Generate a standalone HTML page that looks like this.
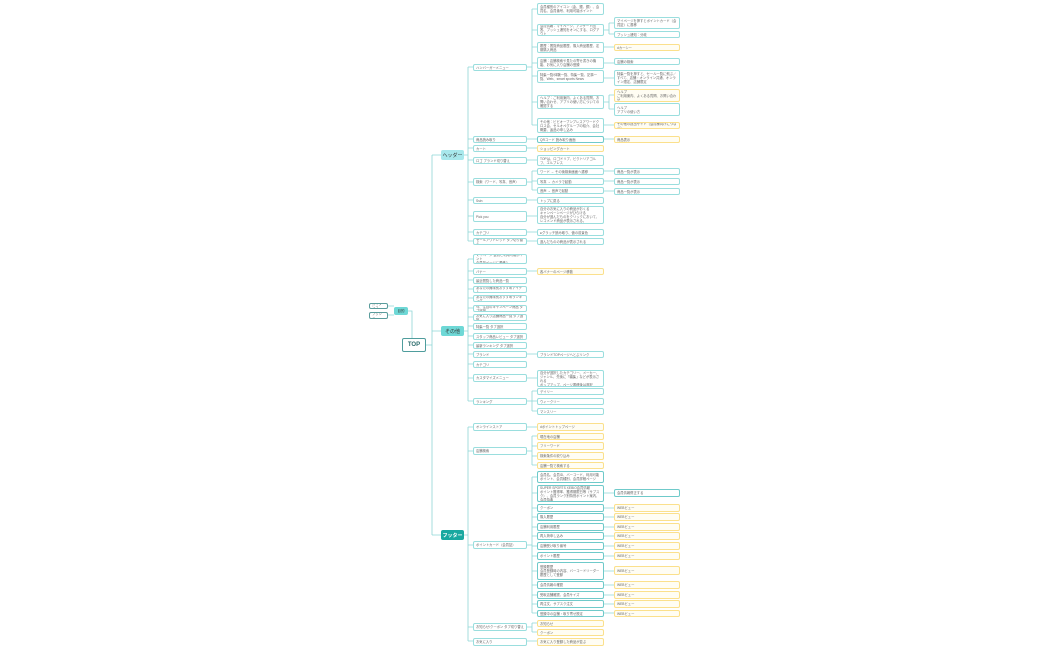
<!DOCTYPE html>
<html><head><meta charset="utf-8">
<style>
body{margin:0;width:1050px;height:650px;background:#fff;position:relative;overflow:hidden;font-family:"Liberation Sans","Noto Sans CJK JP",sans-serif;}
.n{position:absolute;box-sizing:border-box;border:1px solid #9adede;border-radius:2px;background:#fff;font-size:3.3px;line-height:4px;color:#666;padding:1px 2px;overflow:hidden;display:flex;align-items:center;}
.y{border-color:#fbe08c;background:#fffdf3;}
.tk{border-color:#6fcaca;}
.a{left:473px;width:54px;}
.b{left:537px;width:67px;}
.c{left:614px;width:66px;}
.l1{position:absolute;left:441px;width:23px;height:10px;border-radius:2px;font-size:5px;display:flex;align-items:center;justify-content:center;color:#333;}
svg{position:absolute;left:0;top:0;}
</style></head><body>
<svg width="1050" height="650" fill="none" stroke="#8fd6d6" stroke-width="0.8">
<path d="M426 345H432M432 155V535M432 155H441M432 331H441M432 535H441"/>
<path d="M408 311H412V345H402"/>
<path d="M388 306H394M388 315H394"/>
<path d="M464 155H468M468 67V241M468 67H473M468 139H473M468 148H473M468 160H473M468 182H473M468 200H473M468 216H473M468 232H473M468 241H473"/>
<path d="M527 67H532M532 9V125M532 9H537M532 30H537M532 47H537M532 63H537M532 76H537M532 102H537M532 125H537"/>
<path d="M527 139H537M527 148H537M527 160H537M527 200H537M527 216H537M527 232H537M527 241H537"/>
<path d="M527 182H532M532 171V190M532 171H537M532 181H537M532 190H537"/>
<path d="M604 30H609M609 23V34M609 23H614M609 34H614M604 47H614M604 63H614M604 78H614M604 102H609M609 95V109M609 95H614M609 109H614M604 125H614M604 139H614M604 171H614M604 181H614M604 191H614"/>
<path d="M464 331H468M468 259V401M468 259H473M468 271H473M468 280H473M468 289H473M468 298H473M468 308H473M468 317H473M468 326H473M468 336H473M468 345H473M468 354H473M468 364H473M468 378H473M468 401H473"/>
<path d="M527 271H537M527 354H537M527 378H537M527 401H532M532 391V411M532 391H537M532 401H537M532 411H537"/>
<path d="M464 535H468M468 427V641M468 427H473M468 451H473M468 545H473M468 627H473M468 641H473"/>
<path d="M527 427H537M527 641H537M527 451H532M532 436V465M532 436H537M532 446H537M532 456H537M532 465H537"/>
<path d="M527 545H532M532 477V613M532 477H537M532 493H537M532 508H537M532 517H537M532 527H537M532 536H537M532 546H537M532 556H537M532 571H537M532 585H537M532 595H537M532 604H537M532 613H537"/>
<path d="M527 627H532M532 623V632M532 623H537M532 632H537"/>
<path d="M604 493H614M604 508H614M604 517H614M604 527H614M604 536H614M604 546H614M604 556H614M604 571H614M604 585H614M604 595H614M604 604H614M604 613H614"/>
</svg>

<div class="n tk" style="left:402px;top:338px;width:24px;height:14px;justify-content:center;font-size:6px;font-weight:bold;color:#2a6b6b;border-width:1.2px;border-color:#4f9d9d;">TOP</div>
<div class="l1" style="left:394px;top:307px;width:14px;height:8px;background:#6ed8d6;font-size:3.5px;">目的</div>
<div class="n tk" style="left:369px;top:303px;width:19px;height:6px;border-color:#5a9c9c;">ガイダンス</div>
<div class="n tk" style="left:369px;top:312px;width:19px;height:7px;border-color:#5a9c9c;">ブッシュ</div>

<div class="l1" style="top:150px;background:#a8e8ec;">ヘッダー</div>
<div class="l1" style="top:326px;background:#6ed8d6;">その他</div>
<div class="l1" style="top:530px;background:#19a8a0;color:#fff;font-weight:bold;">フッター</div>

<div class="n a" style="top:64px;height:7px;">ハンバーガーメニュー</div>
<div class="n a" style="top:136px;height:7px;">商品読み取り</div>
<div class="n a" style="top:145px;height:7px;">カート</div>
<div class="n a" style="top:157px;height:7px;">ロゴ ブランド切り替え</div>
<div class="n a" style="top:178px;height:8px;">検索（ワード、写真、音声）</div>
<div class="n a" style="top:197px;height:7px;">Ssin</div>
<div class="n a" style="top:211px;height:11px;">Pick you</div>
<div class="n a" style="top:229px;height:7px;">カテゴリ</div>
<div class="n a" style="top:238px;height:7px;">セールアウトレット タブ切り替え</div>
<div class="n b" style="top:3px;height:12px;">会員種別のアイコン（金、銀、銅）、会員名、会員番号、利用可能ポイント</div>
<div class="n b" style="top:24px;height:12px;">会員情報：マイページ、アンケート回答、プッシュ通知をオンにする、ログアウト</div>
<div class="n b" style="top:42px;height:11px;">履歴：閲覧商品履歴、購入商品履歴、定期購入商品</div>
<div class="n b" style="top:57px;height:12px;">店舗：店舗検索や見たの寄せ書きの機能、お気に入り店舗の登録</div>
<div class="n b" style="top:70px;height:13px;">特集一覧/体験一覧、特集一覧、記事一覧、Web、smart sports News</div>
<div class="n b" style="top:95px;height:14px;">ヘルプ：ご利用案内、よくある質問、お問い合わせ、アプリの使い方についての確認する</div>
<div class="n b" style="top:118px;height:15px;">その他：ビビオーブンプレスアワードクロス会、セルオペグループの紹介、会社概要、返品の申し込み</div>
<div class="n b tk" style="top:136px;height:7px;">QRコード 読み取り画面</div>
<div class="n b y" style="top:145px;height:7px;">ショッピングカート</div>
<div class="n b" style="top:155px;height:11px;">TOPは、ロゴドリブ、ビクトリアゴルフ、エルブレス</div>
<div class="n b" style="top:168px;height:7px;">ワード → その後検索画面へ遷移</div>
<div class="n b" style="top:178px;height:7px;">写真 → カメラで起動</div>
<div class="n b" style="top:187px;height:7px;">音声 → 音声で起動</div>
<div class="n b" style="top:197px;height:7px;">トップに戻る</div>
<div class="n b" style="top:206px;height:18px;">自分のお気に入りの商品がおくる<br>キャンペーンページがひらける<br>自分が選んだものをクリックにおいて、レコメンド商品が表示される。</div>
<div class="n b" style="top:229px;height:7px;">●グラッチ読み取り、値の前景色</div>
<div class="n b" style="top:238px;height:7px;">選んだものの商品が表示される</div>
<div class="n c" style="top:17px;height:12px;">マイページを押すとポイントカード（会員証）に遷移</div>
<div class="n c" style="top:31px;height:7px;">プッシュ通知：分岐</div>
<div class="n c y" style="top:44px;height:7px;">dカーシー</div>
<div class="n c" style="top:58px;height:7px;">店舗の検索</div>
<div class="n c" style="top:70px;height:16px;">特集一覧を押すと、セール一覧に飛ぶ／すべて、店舗・オンライン共通、オンライン限定、店舗限定</div>
<div class="n c y" style="top:89px;height:13px;">ヘルプ<br>ご利用案内、よくある質問、お問い合わせ</div>
<div class="n c" style="top:103px;height:13px;">ヘルプ<br>アプリの使い方</div>
<div class="n c y" style="top:122px;height:7px;">その他の提出サイト（会員様向けにつなぐ）</div>
<div class="n c y" style="top:136px;height:7px;">商品表示</div>
<div class="n c" style="top:168px;height:7px;">商品一覧が表示</div>
<div class="n c" style="top:178px;height:7px;">商品一覧が表示</div>
<div class="n c" style="top:188px;height:7px;">商品一覧が表示</div>

<div class="n a" style="top:254px;height:10px;">マイページ 会員と利用可能ポイント<br>会員証ページに遷移?</div>
<div class="n a" style="top:268px;height:7px;">バナー</div>
<div class="n a" style="top:277px;height:7px;">最近閲覧した商品一覧</div>
<div class="n a" style="top:286px;height:7px;">あなたの興味別おすすめアイテム</div>
<div class="n a" style="top:295px;height:7px;">あなたの興味別おすすめランキング</div>
<div class="n a" style="top:305px;height:7px;">今、注目のキャンペーン商品 タブ選択</div>
<div class="n a" style="top:314px;height:7px;">お気に入り店舗商品一覧 タブ選択</div>
<div class="n a" style="top:323px;height:7px;">特集一覧 タブ選択</div>
<div class="n a" style="top:333px;height:7px;">スタッフ商品レビュー タブ選択</div>
<div class="n a" style="top:342px;height:7px;">最新ランキング タブ選択</div>
<div class="n a" style="top:351px;height:7px;">ブランド</div>
<div class="n a" style="top:361px;height:7px;">カテゴリ</div>
<div class="n a" style="top:374px;height:8px;">カスタマイズメニュー</div>
<div class="n a" style="top:398px;height:7px;">ランキング</div>
<div class="n b y" style="top:268px;height:7px;">各バナーのページ移動</div>
<div class="n b" style="top:351px;height:7px;">ブランドTOPページへとぶリンク</div>
<div class="n b" style="top:370px;height:17px;">自分が選択したカテゴリー、メーカー、ジャンル、先後に「編集」などが表示される<br>ポップアップ、ページ遷移後は選択</div>
<div class="n b" style="top:388px;height:7px;">デイリー</div>
<div class="n b" style="top:398px;height:7px;">ウィークリー</div>
<div class="n b" style="top:408px;height:7px;">マンスリー</div>

<div class="n a" style="top:423px;height:8px;">オンラインストア</div>
<div class="n a" style="top:447px;height:8px;">店舗検索</div>
<div class="n a" style="top:541px;height:8px;">ポイントカード（会員証）</div>
<div class="n a" style="top:623px;height:8px;">お知らせ/クーポン タブ切り替え</div>
<div class="n a" style="top:638px;height:8px;">お気に入り</div>
<div class="n b y" style="top:423px;height:8px;">dポイントトップページ</div>
<div class="n b y" style="top:433px;height:7px;">現在地の店舗</div>
<div class="n b y" style="top:442px;height:8px;">フリーワード</div>
<div class="n b y" style="top:452px;height:8px;">検索条件の絞り込み</div>
<div class="n b y" style="top:462px;height:7px;">店舗一覧で検索する</div>
<div class="n b tk" style="top:471px;height:12px;">会員名、会員ID、バーコード、利用可能ポイント、会員種別、会員詳細ページ</div>
<div class="n b tk" style="top:485px;height:17px;">SUPER SPORTS XEBIO会員情報<br>ポイント獲得率、獲得期限日等（サブスク）、会員ランク別特別ポイント案内、会員特典</div>
<div class="n b tk" style="top:504px;height:8px;">クーポン</div>
<div class="n b tk" style="top:513px;height:8px;">購入履歴</div>
<div class="n b tk" style="top:523px;height:8px;">店舗利用履歴</div>
<div class="n b tk" style="top:532px;height:8px;">再入荷申し込み</div>
<div class="n b tk" style="top:542px;height:8px;">店舗受け取り番号</div>
<div class="n b tk" style="top:552px;height:8px;">ポイント履歴</div>
<div class="n b tk" style="top:562px;height:18px;">登録履歴<br>会員登録時の内容、バーコードリーダー履歴として登録</div>
<div class="n b tk" style="top:581px;height:8px;">会員情報の確認</div>
<div class="n b tk" style="top:591px;height:8px;">受取店舗確認、会員サイズ</div>
<div class="n b tk" style="top:600px;height:8px;">再注文、サブスク注文</div>
<div class="n b tk" style="top:610px;height:7px;">登録中の店舗・取り寄せ設定</div>
<div class="n b y" style="top:620px;height:7px;">お知らせ</div>
<div class="n b y" style="top:629px;height:7px;">クーポン</div>
<div class="n b y" style="top:638px;height:8px;">お気に入り登録した商品が並ぶ</div>
<div class="n c tk" style="top:489px;height:8px;">会員情報修正する</div>
<div class="n c y" style="top:504px;height:8px;">WEBビュー</div>
<div class="n c y" style="top:513px;height:8px;">WEBビュー</div>
<div class="n c y" style="top:523px;height:8px;">WEBビュー</div>
<div class="n c y" style="top:532px;height:8px;">WEBビュー</div>
<div class="n c y" style="top:542px;height:8px;">WEBビュー</div>
<div class="n c y" style="top:552px;height:8px;">WEBビュー</div>
<div class="n c y" style="top:566px;height:9px;">WEBビュー</div>
<div class="n c y" style="top:581px;height:8px;">WEBビュー</div>
<div class="n c y" style="top:591px;height:8px;">WEBビュー</div>
<div class="n c y" style="top:600px;height:8px;">WEBビュー</div>
<div class="n c y" style="top:610px;height:7px;">WEBビュー</div>
</body></html>
